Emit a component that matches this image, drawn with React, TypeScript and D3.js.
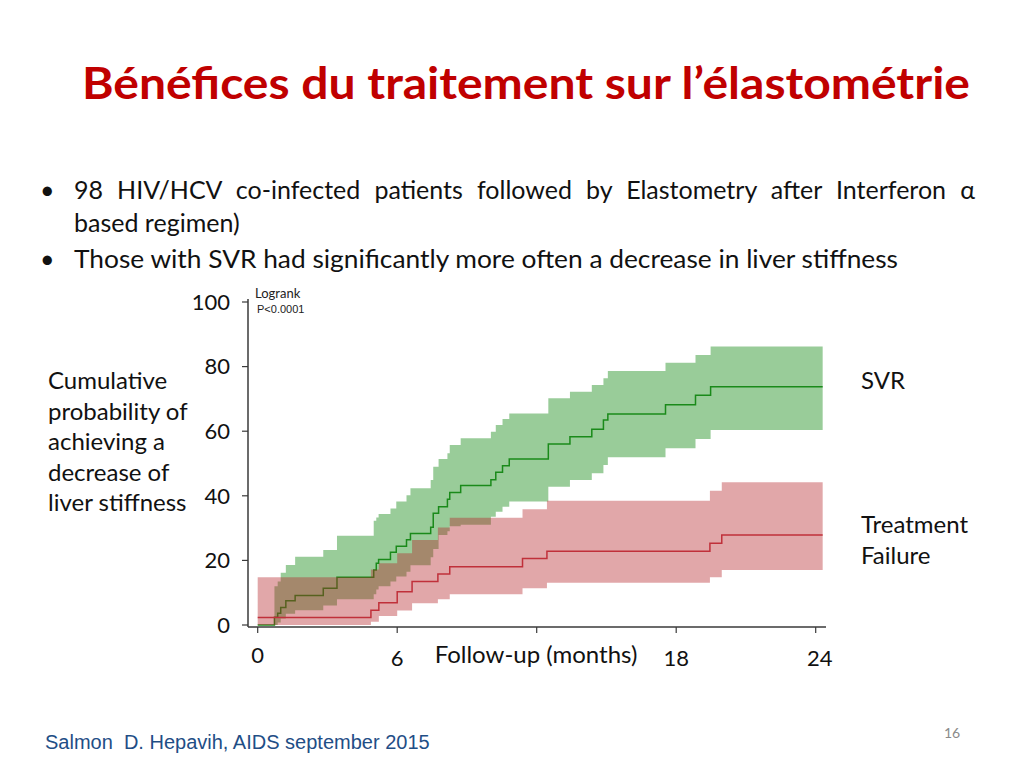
import React, { useLayoutEffect, useRef, useState } from "react";
import * as d3 from "d3";

// ---- Data ----
// SVR group: Kaplan-Meier step estimate (cumulative %), with 95% CI
const svrTimes = [0, 0.72, 0.86, 0.99, 1.21, 1.61, 2.82, 3.41, 4.99, 5.1, 5.2, 5.71, 5.96, 6.4, 6.57, 7.44, 7.55, 7.78, 8.16, 8.26, 8.73, 10.03, 10.24, 10.53, 10.82, 12.5, 13.43, 14.37, 14.87, 15.06, 17.54, 18.83, 19.48];
const svrEstimate = [0, 2.4, 3.6, 5.4, 7.5, 9.1, 11.4, 14.8, 17.0, 19.1, 20.3, 22.5, 24.4, 26.4, 28.3, 30.3, 34.6, 36.6, 38.9, 41.0, 43.2, 45.0, 47.3, 49.3, 51.4, 56.0, 58.3, 60.6, 63.5, 65.3, 68.2, 71.1, 73.8];
const svrLower = [0, 0, 0.8, 2.0, 3.5, 4.6, 6.0, 8.0, 9.5, 11.0, 12.0, 13.5, 15.0, 16.5, 18.5, 21.0, 23.5, 27.9, 29.0, 30.6, 31.0, 33.5, 35.1, 36.6, 38.2, 42.8, 44.9, 47.0, 49.5, 51.9, 54.7, 57.6, 60.4];
const svrUpper = [0, 12.0, 13.5, 16.2, 18.6, 21.1, 23.2, 27.6, 32.3, 33.3, 34.4, 36.1, 38.2, 40.2, 42.3, 44.9, 49.0, 51.4, 53.2, 55.7, 57.8, 59.8, 61.9, 63.8, 65.5, 70.2, 72.2, 74.3, 76.4, 78.6, 81.2, 83.6, 86.2];

// Treatment failure group
const tfTimes = [0, 4.87, 5.21, 6.0, 6.64, 7.75, 8.26, 11.39, 12.44, 19.45, 19.96];
const tfEstimate = [2.3, 4.6, 6.9, 10.3, 13.5, 15.8, 18.0, 20.6, 22.8, 25.3, 27.9];
const tfLower = [0, 1.0, 2.8, 4.5, 6.7, 8.0, 9.5, 11.4, 13.1, 14.8, 17.0];
const tfUpper = [14.8, 17.2, 19.1, 22.2, 26.3, 30.2, 33.2, 35.8, 38.5, 41.6, 44.2];

const followUpEnd = 24.3;

const yTicks = [0, 20, 40, 60, 80, 100];
const xTicks = [0, 6, 12, 18, 24];
const xTickLabels = ["0", "6", "", "18", "24"];

const yTitleLines = ["Cumulative", "probability of", "achieving a", "decrease of", "liver stiffness"];

const bullet1 = "98 HIV/HCV co-infected patients followed by Elastometry after Interferon α";
const bullet1b = "based regimen)";
const bullet2 = "Those with SVR had significantly more often a decrease in liver stiffness";

type Pt = { t: number; est: number; lo: number; hi: number };

function buildSeries(times: number[], est: number[], lo: number[], hi: number[]): Pt[] {
  const pts: Pt[] = times.map((t, i) => ({ t, est: est[i], lo: lo[i], hi: hi[i] }));
  const last = pts[pts.length - 1];
  pts.push({ ...last, t: followUpEnd });
  return pts;
}

const svrData = buildSeries(svrTimes, svrEstimate, svrLower, svrUpper);
const tfData = buildSeries(tfTimes, tfEstimate, tfLower, tfUpper);

export default function App() {
  const x = d3.scaleLinear().domain([0, 24]).range([257.7, 815.7]);
  const y = d3.scaleLinear().domain([0, 100]).range([625, 302]);

  const b1Ref = useRef<SVGTextElement>(null);
  const [wordSp, setWordSp] = useState(0);
  useLayoutEffect(() => {
    if (b1Ref.current) {
      const w = b1Ref.current.getComputedTextLength();
      const spaces = bullet1.split(" ").length - 1;
      setWordSp(Math.max(0, (901 - w) / spaces));
    }
  }, []);

  const area = d3
    .area<Pt>()
    .curve(d3.curveStepAfter)
    .x((d) => x(d.t))
    .y0((d) => y(d.lo))
    .y1((d) => y(d.hi));
  const line = d3
    .line<Pt>()
    .curve(d3.curveStepAfter)
    .x((d) => x(d.t))
    .y((d) => y(d.est));

  const axisColor = "#3a3a3a";
  const font = "Lato, 'Open Sans', sans-serif";
  const axisY0 = 627;
  const axisX0 = 248;
  const labelSize = 24;

  return (
    <svg
      width={1024}
      height={768}
      style={{ position: "absolute", left: 0, top: 0, background: "#fff" }}
      fontFamily={font}
    >
      <rect x={0} y={0} width={1024} height={768} fill="#fff" />
      {/* Title */}
      <text x={82} y={99} fontSize={43} fontWeight={700} fill="#C00000" textLength={888} lengthAdjust="spacingAndGlyphs">
        Bénéfices du traitement sur l’élastométrie
      </text>

      {/* Bullets */}
      <g fontSize={25} fill="#111">
        <text x={40} y={199}>•</text>
        <text ref={b1Ref} x={74} y={199} wordSpacing={wordSp}>
          {bullet1}
        </text>
        <text x={74} y={232}>{bullet1b}</text>
        <text x={40} y={268}>•</text>
        <text x={74} y={268} textLength={824} lengthAdjust="spacingAndGlyphs">
          {bullet2}
        </text>
      </g>

      {/* Bands and curves */}
      <path d={area(svrData) || ""} fill="rgb(0,128,0)" fillOpacity={0.4} />
      <path d={line(svrData) || ""} fill="none" stroke="#1a8a1a" strokeWidth={1.5} />
      <path d={area(tfData) || ""} fill="rgb(180,36,40)" fillOpacity={0.4} />
      <path d={line(tfData) || ""} fill="none" stroke="#c0303a" strokeWidth={1.5} />

      {/* Axes */}
      <line x1={axisX0} x2={axisX0} y1={299} y2={axisY0} stroke={axisColor} strokeWidth={1.5} />
      <line x1={axisX0} x2={826} y1={axisY0} y2={axisY0} stroke={axisColor} strokeWidth={1.5} />
      {yTicks.map((v) => (
        <g key={"y" + v}>
          <line x1={axisX0 - 6} x2={axisX0} y1={y(v)} y2={y(v)} stroke={axisColor} strokeWidth={1.2} />
          <text x={230} y={y(v)} dy="0.35em" textAnchor="end" fontSize={22} fill="#111">
            {v}
          </text>
        </g>
      ))}
      {xTicks.map((v, i) => (
        <g key={"x" + v}>
          <line x1={x(v)} x2={x(v)} y1={axisY0} y2={axisY0 + 6} stroke={axisColor} strokeWidth={1.2} />
          {xTickLabels[i] && (
            <text x={x(v) + (i === 4 ? 4 : 0)} y={i === 0 ? 655 : 658} dy="0.35em" textAnchor="middle" fontSize={22} fill="#111">
              {xTickLabels[i]}
            </text>
          )}
        </g>
      ))}
      <text x={536} y={655} dy="0.35em" textAnchor="middle" fontSize={labelSize} fill="#111">
        Follow-up (months)
      </text>

      {/* Y title */}
      {yTitleLines.map((s, i) => (
        <text key={s} x={48} y={381 + i * 30.5} dy="0.35em" fontSize={labelSize} fill="#111">
          {s}
        </text>
      ))}

      {/* Group labels */}
      <text x={861} y={381} dy="0.35em" fontSize={labelSize} fill="#111">SVR</text>
      <text x={861} y={525} dy="0.35em" fontSize={labelSize} fill="#111">Treatment</text>
      <text x={861} y={556} dy="0.35em" fontSize={labelSize} fill="#111">Failure</text>

      {/* Logrank */}
      <text x={255} y={293} dy="0.35em" fontSize={13} fill="#222">Logrank</text>
      <text x={257} y={309} dy="0.35em" fontSize={11} fontFamily="'Liberation Sans', Arial, sans-serif" fill="#222">P&lt;0.0001</text>

      {/* Footer */}
      <text x={45} y={742} dy="0.35em" fontSize={20} fontFamily="'Liberation Sans', Arial, sans-serif" fill="#1f4e86" style={{ whiteSpace: "pre" }}>
        {"Salmon  D. Hepavih, AIDS september 2015"}
      </text>
      <text x={944} y={733} dy="0.35em" fontSize={14} fill="#8a8a8a">16</text>
    </svg>
  );
}
